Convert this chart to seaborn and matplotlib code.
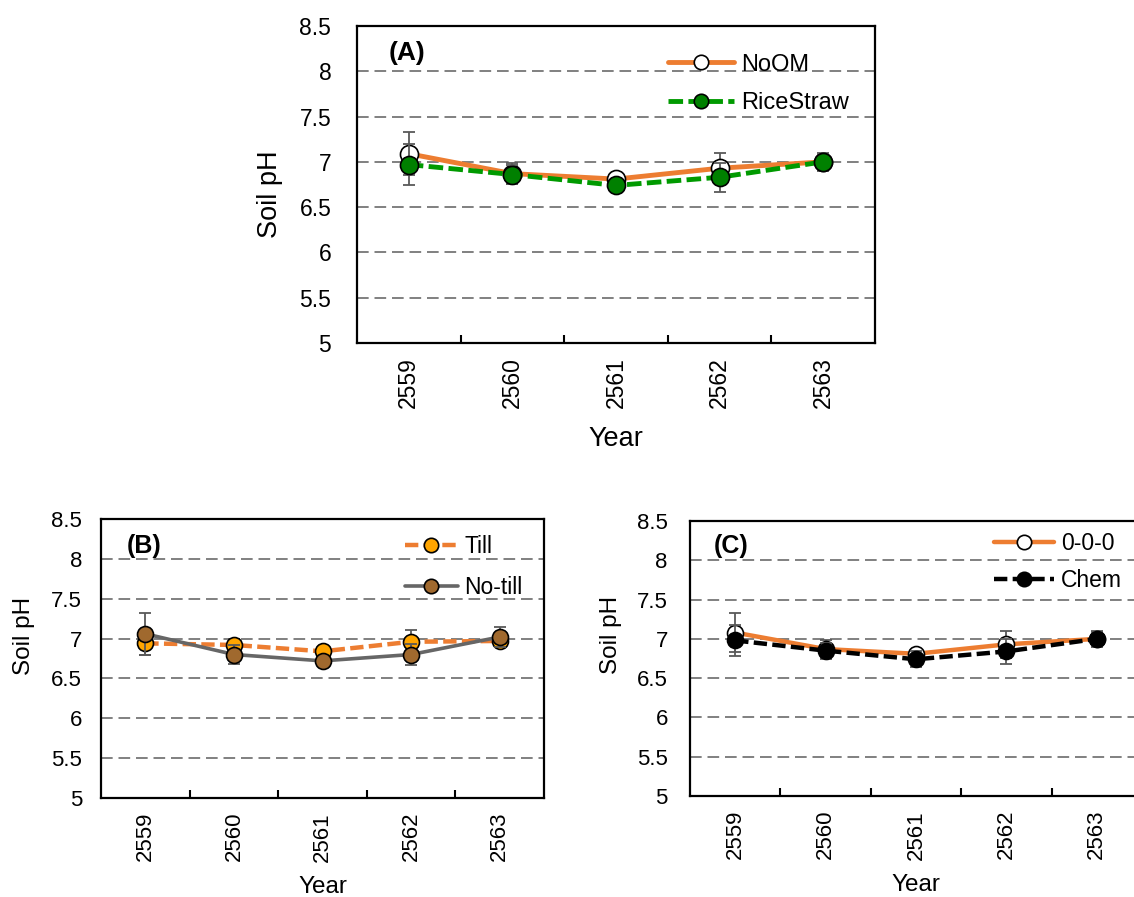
import numpy as np
import pandas as pd
import matplotlib
matplotlib.use("Agg")
import matplotlib.pyplot as plt
import seaborn as sns
from matplotlib.ticker import FuncFormatter, FixedLocator

# ---------------- data ----------------
years = ["2559", "2560", "2561", "2562", "2563"]

noom = [7.09, 6.87, 6.81, 6.93, 7.00]
noom_err = [0.24, 0.12, 0.05, 0.17, 0.10]
rice = [6.97, 6.86, 6.74, 6.83, 7.00]
rice_err = [0.23, 0.10, 0.05, 0.16, 0.08]

till = [6.94, 6.92, 6.84, 6.96, 6.97]
till_err = [0.14, 0.08, 0.05, 0.15, 0.08]
notill = [7.06, 6.80, 6.72, 6.80, 7.02]
notill_err = [0.26, 0.12, 0.05, 0.13, 0.13]

ctrl = [7.08, 6.87, 6.81, 6.93, 7.00]
ctrl_err = [0.25, 0.11, 0.05, 0.17, 0.10]
chem = [6.98, 6.85, 6.74, 6.84, 7.00]
chem_err = [0.20, 0.10, 0.10, 0.16, 0.09]

y_ticks = [5, 5.5, 6, 6.5, 7, 7.5, 8, 8.5]

# ---------------- style ----------------
sns.set_style("white")
plt.rcParams["font.family"] = ["Liberation Sans", "DejaVu Sans"]
for k in ["text.color", "axes.labelcolor", "xtick.color", "ytick.color"]:
    plt.rcParams[k] = "black"

W, H = 1134, 897
fig = plt.figure(figsize=(W / 100, H / 100), dpi=100)


def px_axes(l, t, r, b):
    return fig.add_axes([l / W, 1 - b / H, (r - l) / W, (b - t) / H])


axA = px_axes(357, 26, 875, 343)
axB = px_axes(101, 519, 544, 798)
axC = px_axes(690, 521, 1142, 796)

ORANGE = "#ED7D31"


def draw(ax, y, err, color, ls, lw, mfc, ms, label, z):
    df = pd.DataFrame({"Year": years, "pH": y})
    ax.errorbar(years, y, yerr=err, fmt="none", ecolor="#595959",
                elinewidth=1.3, capsize=4.5, capthick=1.3, zorder=z)
    sns.lineplot(data=df, x="Year", y="pH", ax=ax, color=color,
                 linestyle=ls, linewidth=lw, marker="o", markersize=ms,
                 markerfacecolor=mfc, markeredgecolor="black",
                 markeredgewidth=1.2, label=label, zorder=z + 0.5,
                 sort=False)


def style_axes(ax, tick_pad, ylab_xy, xlab_y, tick_fs, lab_fs, tag, tag_xy,
               tag_fs):
    ax.set_xlim(-0.5, 4.5)
    ax.set_ylim(5, 8.5)
    ax.yaxis.set_major_locator(FixedLocator(y_ticks))
    ax.yaxis.set_major_formatter(FuncFormatter(lambda v, _: f"{v:g}"))
    ax.set_xticks(range(len(years)))
    ax.set_xticklabels(years, rotation=90)
    ax.xaxis.set_minor_locator(FixedLocator([0.5, 1.5, 2.5, 3.5]))
    ax.tick_params(axis="x", which="major", length=0, pad=10,
                   labelsize=tick_fs, colors="black")
    ax.tick_params(axis="x", which="minor", bottom=True, direction="in",
                   length=5.5, width=1.5, color="black")
    ax.tick_params(axis="y", which="major", length=0, pad=tick_pad,
                   labelsize=tick_fs, colors="black")
    ax.grid(axis="y", color="#808080", linestyle=(0, (6, 3)), linewidth=1.4)
    ax.grid(axis="x", visible=False)
    ax.set_axisbelow(True)
    for s in ax.spines.values():
        s.set_visible(True)
        s.set_color("black")
        s.set_linewidth(1.6)
        s.set_zorder(10)
    ax.set_xlabel("Year", fontsize=lab_fs, va="top")
    ax.set_ylabel("Soil pH", fontsize=lab_fs)
    ax.yaxis.set_label_coords(*ylab_xy)
    ax.xaxis.set_label_coords(0.5, xlab_y)
    ax.text(tag_xy[0], tag_xy[1], tag, transform=ax.transAxes,
            fontsize=tag_fs, fontweight="bold", ha="left", va="center")


# ---- Panel A ----
draw(axA, noom, noom_err, ORANGE, "-", 3.5, "white", 13, "NoOM", 3)
draw(axA, rice, rice_err, "#009A00", (0, (3, 1.1)), 3.5, "#008000", 13,
     "RiceStraw", 4)
style_axes(axA, 18.5, (-0.143, 0.47), -0.262, 16.5, 19.5, "(A)",
           (0.062, 0.915), 19)
axA.legend(loc="center left", bbox_to_anchor=(0.600, 0.817), frameon=False,
           fontsize=17, handlelength=2.8, handletextpad=0.3,
           labelspacing=0.7, borderpad=0, borderaxespad=0, markerscale=0.8)

# ---- Panel B ----
draw(axB, till, till_err, ORANGE, (0, (3, 1.2)), 3.2, "#FFA500", 11.5,
     "Till", 3)
draw(axB, notill, notill_err, "#666666", "-", 2.6, "#A0692E", 11.5,
     "No-till", 4)
style_axes(axB, 13.5, (-0.149, 0.58), -0.28, 16, 17.5, "(B)",
           (0.058, 0.905), 18)
axB.legend(loc="center left", bbox_to_anchor=(0.686, 0.828), frameon=False,
           fontsize=16.5, handlelength=2.3, handletextpad=0.3,
           labelspacing=0.75, borderpad=0, borderaxespad=0, markerscale=0.9)

# ---- Panel C ----
draw(axC, ctrl, ctrl_err, ORANGE, "-", 3.2, "white", 11.5, "0-0-0", 3)
draw(axC, chem, chem_err, "black", (0, (3, 1.2)), 3.2, "black", 11.5,
     "Chem", 4)
style_axes(axC, 16, (-0.151, 0.585), -0.284, 16, 17.5, "(C)",
           (0.053, 0.908), 18)
axC.legend(loc="center left", bbox_to_anchor=(0.673, 0.851), frameon=False,
           fontsize=16.5, handlelength=2.6, handletextpad=0.3,
           labelspacing=0.6, borderpad=0, borderaxespad=0, markerscale=0.9)

fig.savefig("out.png", dpi=100, facecolor="white")
